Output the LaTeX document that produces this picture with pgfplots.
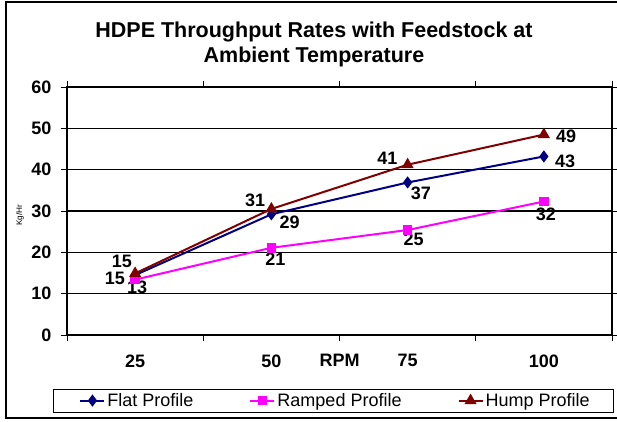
\documentclass[border=0pt]{standalone}
\usepackage{fontspec}
\setmainfont{Liberation Sans}
\usepackage{pgfplots}
\pgfplotsset{compat=1.18}
\definecolor{flatc}{RGB}{0,0,128}
\definecolor{rampc}{RGB}{255,0,255}
\definecolor{humpc}{RGB}{128,0,0}
\newcommand{\fs}[1]{\fontsize{#1}{#1}\selectfont}
\begin{document}
\begin{tikzpicture}[x=1pt,y=1pt]
\useasboundingbox (0,0) rectangle (617,421);
\draw[line width=2.5pt] (6,3) rectangle (622,419);
\draw[line width=1pt] (53,9) rectangle (613,32);
\node[font=\bfseries\fs{21.5}, anchor=base] at (314,383) {HDPE Throughput Rates with Feedstock at};
\node[font=\bfseries\fs{21.5}, anchor=base] at (314,358) {Ambient Temperature};
\node[font=\fs{8.2}, rotate=90] at (20,206) {Kg/Hr};
\begin{axis}[
  at={(67pt,86pt)}, anchor=south west,
  scale only axis, width=545pt, height=248pt,
  xmin=0.5, xmax=4.5, ymin=0, ymax=60,
  xtick={0.5,1.5,2.5,3.5,4.5}, xticklabels={},
  extra x ticks={1,2,2.5,3,4},
  extra x tick labels={25,50,RPM,75,100},
  extra x tick style={major tick length=0pt, grid=none,
     xticklabel style={yshift=-16pt}},
  ytick={0,10,...,60},
  ymajorgrids, grid style={black, line width=1.3pt},
  axis line style={black, line width=1.3pt},
  tick align=outside, major tick length=6pt,
  tick style={black, line width=1pt},
  tick label style={font=\bfseries\fs{18}},
  yticklabel style={xshift=-6pt},
  /pgf/number format/assume math mode=true,
  clip=false,
  legend columns=3,
  legend style={at={(0.4927,-0.2645)}, anchor=center, draw=none, fill=none,
    font=\fs{18}, inner sep=0pt,
    /tikz/every even column/.append style={column sep=54pt}},
  legend image code/.code={\draw[mark repeat=2,mark phase=2] plot coordinates {(0pt,0pt) (12pt,0pt) (24pt,0pt)};},
]
\addplot[flatc, line width=2pt, mark=diamond*, mark size=4.5pt, mark options={solid,fill=flatc}]
  coordinates {(1,14.5) (2,29.2) (3,36.9) (4,43.2)};
\addlegendentry{Flat Profile}
\addplot[rampc, line width=2pt, mark=square*, mark size=3.8pt, mark options={solid,fill=rampc}]
  coordinates {(1,13.4) (2,21.1) (3,25.4) (4,32.3)};
\addlegendentry{Ramped Profile}
\addplot[humpc, line width=2pt, mark=triangle*, mark size=5pt, mark options={solid,fill=humpc}]
  coordinates {(1,14.9) (2,30.5) (3,41.2) (4,48.5)};
\addlegendentry{Hump Profile}
% data labels
\begin{scope}[every node/.style={font=\bfseries\fs{18}, inner sep=0pt}]
\node[anchor=east] at ([xshift=-10pt,yshift=-3pt]axis cs:1,14.5) {15};
\node[anchor=north] at ([xshift=2pt,yshift=-1.5pt]axis cs:1,13.4) {13};
\node[anchor=south east] at ([xshift=-3pt,yshift=5.5pt]axis cs:1,14.9) {15};
\node[anchor=south east] at ([xshift=-6pt,yshift=2pt]axis cs:2,30.5) {31};
\node[anchor=north west] at ([xshift=8pt,yshift=-1pt]axis cs:2,29.2) {29};
\node[anchor=north] at ([xshift=4pt,yshift=-5pt]axis cs:2,21.1) {21};
\node[anchor=south east] at ([xshift=-10pt,yshift=0pt]axis cs:3,41.2) {41};
\node[anchor=north west] at ([xshift=3pt,yshift=-4pt]axis cs:3,36.9) {37};
\node[anchor=north] at ([xshift=6pt,yshift=-3pt]axis cs:3,25.4) {25};
\node[anchor=west] at ([xshift=12pt,yshift=-2pt]axis cs:4,48.5) {49};
\node[anchor=west] at ([xshift=11pt,yshift=-5pt]axis cs:4,43.2) {43};
\node[anchor=north] at ([xshift=2pt,yshift=-6pt]axis cs:4,32.3) {32};
\end{scope}
\end{axis}
\end{tikzpicture}
\end{document}
